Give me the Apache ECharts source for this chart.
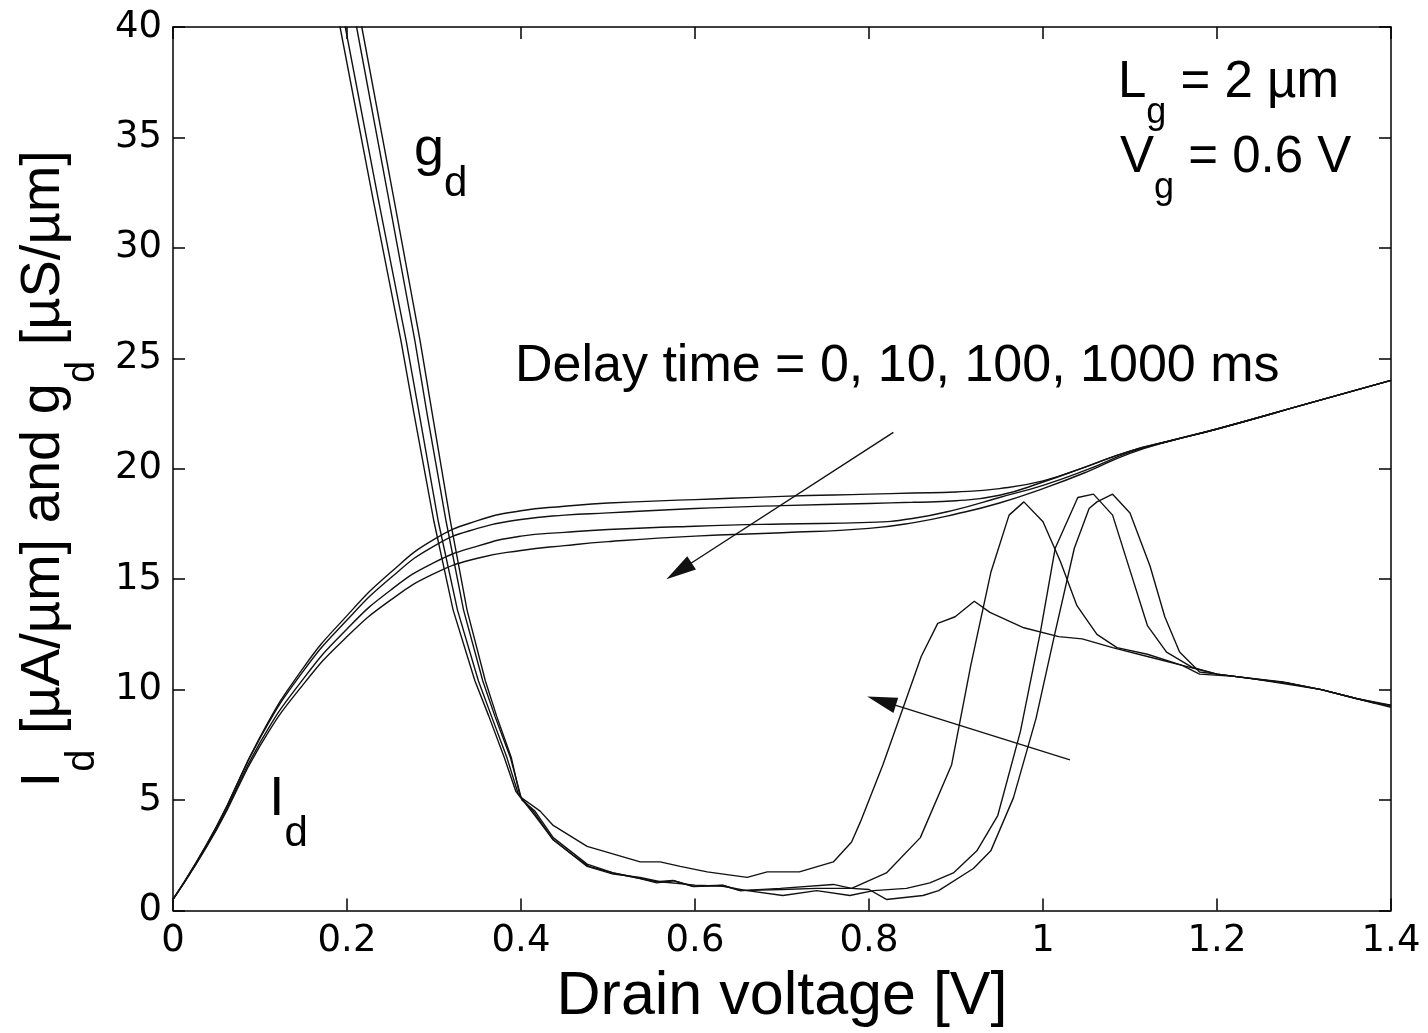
<!DOCTYPE html>
<html>
<head>
<meta charset="utf-8">
<script src="https://cdn.jsdelivr.net/npm/echarts@6/dist/echarts.min.js"></script>
<style>
  html, body { margin: 0; padding: 0; background: #fff; }
  #chart { width: 1428px; height: 1033px; }
</style>
</head>
<body>
<div id="chart"></div>
<script>
// ---------------- data ----------------
const xTicks = [0, 0.2, 0.4, 0.6, 0.8, 1.0, 1.2, 1.4];
const yTicks = [0, 5, 10, 15, 20, 25, 30, 35, 40];

// Drain current Id [uA/um] for delay 0, 10, 100, 1000 ms
const idX    = [0, 0.05, 0.1, 0.15, 0.2, 0.25, 0.3, 0.35, 0.4, 0.45, 0.5, 0.6, 0.7, 0.8, 0.85, 0.9, 0.95, 1.0, 1.05, 1.1, 1.15, 1.2, 1.3, 1.4];
const id0    = [0.5, 3.8, 7.85, 11.0, 13.35, 15.3, 16.8, 17.65, 18.1, 18.3, 18.45, 18.6, 18.75, 18.85, 18.9, 18.95, 19.1, 19.45, 20.1, 20.8, 21.3, 21.8, 22.9, 24.0];
const id10   = [0.5, 3.8, 7.8, 10.85, 13.15, 15.05, 16.5, 17.3, 17.7, 17.9, 18.0, 18.2, 18.33, 18.43, 18.48, 18.55, 18.8, 19.4, 20.1, 20.8, 21.3, 21.8, 22.9, 24.0];
const id100  = [0.5, 3.7, 7.6, 10.5, 12.75, 14.5, 15.75, 16.5, 16.95, 17.12, 17.25, 17.4, 17.5, 17.57, 17.75, 18.15, 18.7, 19.25, 19.95, 20.75, 21.3, 21.8, 22.9, 24.0];
const id1000 = [0.5, 3.65, 7.45, 10.25, 12.4, 14.05, 15.25, 15.95, 16.3, 16.52, 16.7, 16.95, 17.1, 17.3, 17.55, 17.95, 18.45, 19.1, 19.85, 20.7, 21.3, 21.8, 22.9, 24.0];

// Output conductance gd [uS/um], [Vd, gd] pairs
const gd0 = [[0.186,43],[0.192,40],[0.23,32.2],[0.262,25.8],[0.277,22.5],[0.3,17.6],[0.322,13.6],[0.347,10.4],[0.363,8.8],[0.381,6.9],[0.394,5.4],[0.416,4.3],[0.437,3.2],[0.46,2.5],[0.478,2.0],[0.506,1.7],[0.537,1.45],[0.556,1.25],[0.575,1.35],[0.598,1.1],[0.632,1.15],[0.652,0.9],[0.7,0.95],[0.74,1.0],[0.78,1.0],[0.8,0.95],[0.82,0.5],[0.862,0.68],[0.88,0.9],[0.92,1.9],[0.94,2.7],[0.966,5.1],[0.992,8.7],[1.014,12.6],[1.036,16.4],[1.053,18.2],[1.062,18.5],[1.08,18.85],[1.1,18.0],[1.123,15.6],[1.14,13.3],[1.157,11.7],[1.18,10.8],[1.2,10.7],[1.24,10.5],[1.28,10.3],[1.32,10.0],[1.36,9.6],[1.4,9.25]];
const gd10 = [[0.192,43],[0.198,40],[0.236,32.2],[0.268,25.8],[0.283,22.5],[0.305,17.6],[0.327,13.6],[0.351,10.4],[0.366,8.8],[0.384,6.9],[0.397,5.25],[0.414,4.5],[0.437,3.2],[0.476,2.0],[0.506,1.65],[0.537,1.5],[0.56,1.3],[0.6,1.15],[0.632,1.1],[0.66,0.9],[0.701,0.68],[0.74,0.9],[0.778,0.68],[0.805,0.9],[0.843,1.0],[0.87,1.25],[0.897,1.7],[0.924,2.7],[0.948,4.3],[0.974,8.1],[0.997,12.6],[1.014,16.4],[1.04,18.7],[1.058,18.85],[1.08,17.9],[1.1,15.4],[1.12,12.9],[1.142,11.7],[1.172,11.0],[1.2,10.7],[1.24,10.5],[1.28,10.25],[1.32,10.0],[1.36,9.6],[1.4,9.2]];
const gd100 = [[0.205,43],[0.211,40],[0.248,32.2],[0.278,25.8],[0.292,22.5],[0.314,17.6],[0.334,13.6],[0.356,10.4],[0.37,8.8],[0.388,6.9],[0.401,5.0],[0.416,4.5],[0.437,3.3],[0.476,2.1],[0.506,1.7],[0.556,1.3],[0.575,1.36],[0.598,1.08],[0.632,1.13],[0.652,0.9],[0.698,1.0],[0.759,1.18],[0.78,1.0],[0.82,1.7],[0.859,3.3],[0.895,6.6],[0.917,11.1],[0.94,15.3],[0.961,17.9],[0.978,18.5],[1.0,17.6],[1.02,15.8],[1.039,13.8],[1.062,12.5],[1.085,11.9],[1.12,11.6],[1.16,11.1],[1.2,10.7],[1.24,10.5],[1.28,10.3],[1.32,10.0],[1.36,9.6],[1.4,9.3]];
const gd1000 = [[0.211,43],[0.217,40],[0.254,32.2],[0.284,25.8],[0.298,22.5],[0.319,17.6],[0.338,13.6],[0.359,10.4],[0.372,8.8],[0.389,6.9],[0.399,5.15],[0.422,4.5],[0.437,3.85],[0.476,2.9],[0.537,2.2],[0.56,2.2],[0.583,2.0],[0.614,1.75],[0.66,1.5],[0.683,1.75],[0.72,1.75],[0.759,2.2],[0.78,3.1],[0.79,4.0],[0.816,6.6],[0.843,9.6],[0.86,11.5],[0.879,13.0],[0.899,13.3],[0.921,14.0],[0.939,13.5],[0.978,12.8],[1.018,12.4],[1.045,12.3],[1.08,11.9],[1.12,11.5],[1.16,11.1],[1.18,10.7],[1.22,10.6],[1.276,10.35],[1.32,10.0],[1.38,9.4],[1.4,9.3]];

// Annotation arrows (data coordinates: [start], [tip])
const arrowId = [[0.828, 21.65], [0.5816, 15.37]];
const arrowGd = [[1.031, 6.82], [0.8144, 9.49]];

const delayText = 'Delay time = 0, 10, 100, 1000 ms';

// ---------------- chart ----------------
const chart = echarts.init(document.getElementById('chart'), null, { renderer: 'canvas' });
const FONT = 'Liberation Sans, Arial, sans-serif';
const TICKFONT = 'DejaVu Sans, sans-serif';
const INK = '#111';

function pairs(xs, ys) { return xs.map((x, i) => [x, ys[i]]); }

const lineBase = {
  type: 'line', showSymbol: false, symbol: 'none', silent: true, animation: false,
  lineStyle: { color: INK, width: 1.4 }, clip: true, z: 3
};

const idSeries = [id0, id10, id100, id1000].map((ys, k) => Object.assign({}, lineBase, {
  name: 'Id ' + k, data: pairs(idX, ys), smooth: 0.5
}));
const gdSeries = [gd0, gd10, gd100, gd1000].map((d, k) => Object.assign({}, lineBase, {
  name: 'gd ' + k, data: d, smooth: false
}));

gdSeries[0].markLine = {
  silent: true, animation: false,
  symbol: ['none', 'triangle'], symbolSize: [16, 30],
  label: { show: false },
  lineStyle: { color: INK, width: 1.4, type: 'solid' },
  data: [
    [{ coord: arrowId[0] }, { coord: arrowId[1] }],
    [{ coord: arrowGd[0] }, { coord: arrowGd[1] }]
  ]
};

const xCommon = {
  type: 'value', min: 0, max: 1.4, interval: 0.2,
  axisLine: { show: true, onZero: false, lineStyle: { color: '#000', width: 1.5 } },
  axisTick: { show: true, inside: true, length: 12, lineStyle: { color: '#000', width: 1.5 } },
  splitLine: { show: false }
};
const yCommon = {
  type: 'value', min: 0, max: 40, interval: 5,
  axisLine: { show: true, onZero: false, lineStyle: { color: '#000', width: 1.5 } },
  axisTick: { show: true, inside: true, length: 12, lineStyle: { color: '#000', width: 1.5 } },
  splitLine: { show: false }
};

function richText(x, y, text, mainSize, subSize, subPad) {
  return {
    type: 'text', x: x, y: y, silent: true,
    style: {
      text: text, align: 'left', verticalAlign: 'middle',
      rich: {
        m: { fontFamily: FONT, fontSize: mainSize, fill: '#000' },
        s: { fontFamily: FONT, fontSize: subSize, fill: '#000', padding: [subPad, 0, 0, 0] }
      }
    }
  };
}

const option = {
  backgroundColor: '#fff',
  animation: false,
  grid: { left: 173, right: 37, top: 27, bottom: 121, containLabel: false },
  xAxis: [
    Object.assign({}, xCommon, {
      position: 'bottom',
      axisLabel: { show: true, color: '#000', fontFamily: TICKFONT, fontSize: 37, margin: 12,
        formatter: v => String(+v.toFixed(1)) },
      name: 'Drain voltage [V]', nameLocation: 'middle', nameGap: 87,
      nameTextStyle: { fontFamily: FONT, fontSize: 61, color: '#000', verticalAlign: 'middle' }
    }),
    Object.assign({}, xCommon, { position: 'top', axisLabel: { show: false } })
  ],
  yAxis: [
    Object.assign({}, yCommon, {
      position: 'left',
      axisLabel: { show: true, color: '#000', fontFamily: TICKFONT, fontSize: 37, margin: 11 },
      name: '{m|I}{s|d}{m| [µA/µm] and g}{s|d}{m| [µS/µm]}',
      nameLocation: 'middle', nameRotate: 90, nameGap: 129,
      nameTextStyle: {
        verticalAlign: 'middle', align: 'center',
        rich: {
          m: { fontFamily: FONT, fontSize: 56, color: '#000' },
          s: { fontFamily: FONT, fontSize: 40, color: '#000', padding: [78, 0, 0, 0] }
        }
      }
    }),
    Object.assign({}, yCommon, { position: 'right', axisLabel: { show: false } })
  ],
  series: idSeries.concat(gdSeries),
  graphic: [
    richText(414, 150, '{m|g}{s|d}', 54, 42, 68),
    richText(269, 800, '{m|I}{s|d}', 56, 42, 68),
    richText(1118, 83, '{m|L}{s|g}{m| = 2 µm}', 51, 36, 60),
    richText(1120, 158, '{m|V}{s|g}{m| = 0.6 V}', 51, 36, 60),
    {
      type: 'text', x: 515, y: 367, silent: true,
      style: { text: delayText, fontFamily: FONT, fontSize: 52, fill: '#000', align: 'left', verticalAlign: 'middle' }
    }
  ]
};
chart.setOption(option);
</script>
</body>
</html>
